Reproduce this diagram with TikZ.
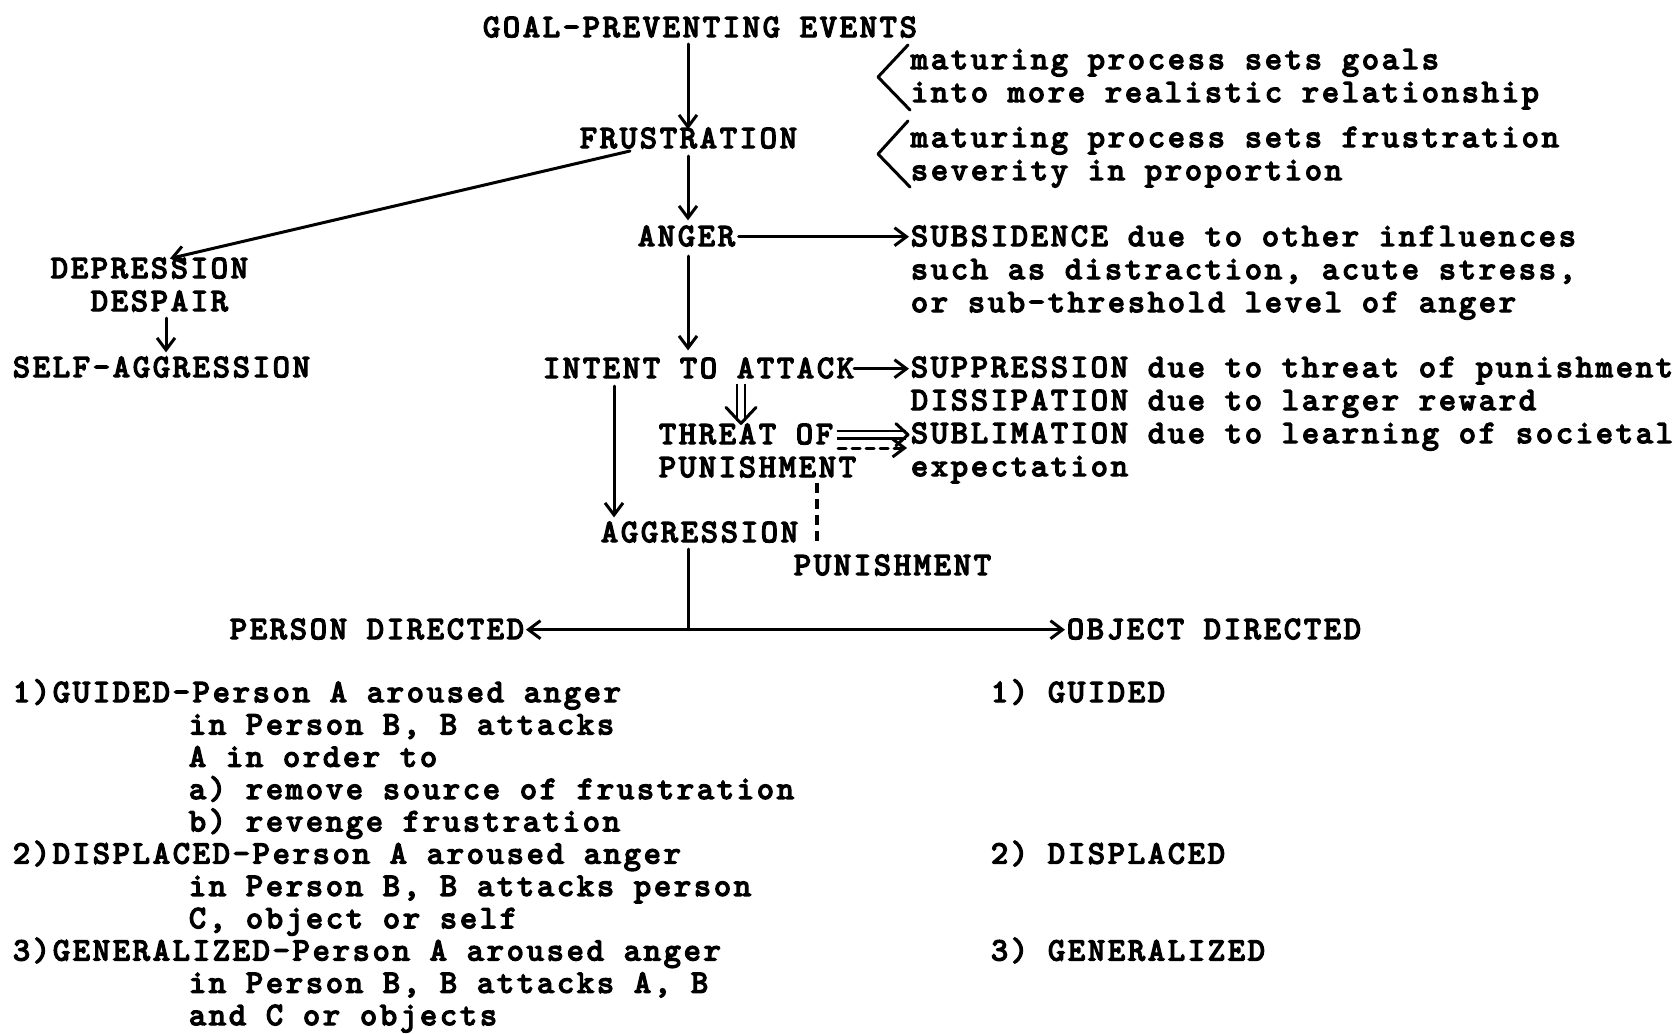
\documentclass[tikz,border=0pt]{standalone}
\usepackage{fontspec}
\newfontfamily\tw{lmmono10-regular.otf}[LetterSpace=9, AutoFakeBold=4.5]
\usetikzlibrary{arrows.meta}
\begin{document}
\begin{tikzpicture}[x=0.5pt,y=-0.5pt,
  txt/.style={anchor=base west, inner sep=0pt, outer sep=0pt, text height=9.3pt, text depth=0pt, font=\tw\bfseries\fontsize{16.25}{16.5}\selectfont},
  conn/.style={line width=1.5pt, line cap=round, -{Straight Barb[length=6pt,width=9pt,line width=1.5pt]}},
  plain/.style={line width=1.5pt, line cap=round},
  dbl/.style={double, double distance=2.6pt, line width=1.2pt},
  head/.style={line width=1.5pt, line cap=round, line join=round},
  dsh/.style={line width=1.6pt, dash pattern=on 5pt off 3pt},
  brk/.style={line width=1.5pt, line join=round, line cap=round}]
\useasboundingbox (0,0) rectangle (1675,1033);
\fill[white] (0,0) rectangle (1675,1033);

% ---- text ----
\node[txt] (goal) at (483,37) {GOAL-PREVENTING EVENTS};
\node[txt] (m1) at (911,69) {maturing process sets goals};
\node[txt] (m2) at (911,102) {into more realistic relationship};
\node[txt] (frust) at (580,148) {FRUSTRATION};
\node[txt] (m3) at (911,147) {maturing process sets frustration};
\node[txt] (m4) at (911,180) {severity in proportion};
\node[txt] (anger) at (638,246) {ANGER};
\node[txt] (subs) at (911,246) {SUBSIDENCE due to other influences};
\node[txt] (subs2) at (911,279) {such as distraction, acute stress,};
\node[txt] (subs3) at (911,312) {or sub-threshold level of anger};
\node[txt] (depr) at (51,278) {DEPRESSION};
\node[txt] (desp) at (91,311) {DESPAIR};
\node[txt] (selfagg) at (13,377) {SELF-AGGRESSION};
\node[txt] (intent) at (543,378) {INTENT TO ATTACK};
\node[txt] (supp) at (911,377) {SUPPRESSION due to threat of punishment};
\node[txt] (diss) at (911,410) {DISSIPATION due to larger reward};
\node[txt] (subl) at (911,443) {SUBLIMATION due to learning of societal};
\node[txt] (expect) at (911,476) {expectation};
\node[txt] (threat) at (659,444) {THREAT OF};
\node[txt] (pun1) at (659,477) {PUNISHMENT};
\node[txt] (agg) at (601,542) {AGGRESSION};
\node[txt] (pun2) at (794,575) {PUNISHMENT};
\node[txt] (person) at (230,639) {PERSON DIRECTED};
\node[txt] (object) at (1067,639) {OBJECT DIRECTED};

\node[txt] (g1) at (13,702) {1)GUIDED-Person A aroused anger};
\node[txt] (g2) at (189,734.3) {in Person B, B attacks};
\node[txt] (g3) at (189,766.6) {A in order to};
\node[txt] (g4) at (189,798.9) {a) remove source of frustration};
\node[txt] (g5) at (189,831.2) {b) revenge frustration};
\node[txt] (d1) at (13,863.5) {2)DISPLACED-Person A aroused anger};
\node[txt] (d2) at (189,895.8) {in Person B, B attacks person};
\node[txt] (d3) at (189,928.1) {C, object or self};
\node[txt] (z1) at (13,960.4) {3)GENERALIZED-Person A aroused anger};
\node[txt] (z2) at (189,992.7) {in Person B, B attacks A, B};
\node[txt] (z3) at (189,1025) {and C or objects};

\node[txt] (o1) at (991,702) {1) GUIDED};
\node[txt] (o2) at (991,863.5) {2) DISPLACED};
\node[txt] (o3) at (991,960.4) {3) GENERALIZED};

% ---- brackets ----
\draw[brk] (908,45) -- (878,77) -- (910,110);
\draw[brk] (908,121) -- (878,154) -- (910,187);

% ---- axes ----
\coordinate (ax) at (688,0);
\coordinate (lax) at (166,0);
\coordinate (iax) at (614,0);
\coordinate (tax) at (741,0);
\coordinate (pax) at (817,0);
\coordinate (fd) at (630,151);
\coordinate (dsrc) at (838,448);

% ---- connectors ----
\draw[conn, shorten <=3.5pt] (ax |- goal.south) -- (ax |- frust.north);
\draw[conn, shorten <=4pt, shorten >=3.5pt] (ax |- frust.south) -- (ax |- anger.north);
\draw[conn, shorten >=2pt] (fd) -- (lax |- depr.north);
\draw[conn, shorten <=3.5pt, shorten >=3pt] (lax |- desp.south) -- (lax |- selfagg.north);
\draw[conn, shorten <=1.75pt, shorten >=1pt] (anger.east) -- (anger.east -| subs.west);
\draw[conn, shorten <=5pt, shorten >=4.5pt] (ax |- anger.south) -- (ax |- intent.north);
\draw[conn, shorten >=1pt] (intent.east) -- (intent.east -| supp.west);
\draw[conn, shorten <=4pt, shorten >=3pt] (iax |- intent.south) -- (iax |- agg.north);
% double arrows
\path (tax |- threat.north) ++(0,-2) coordinate (t1);
\draw[dbl, shorten <=3pt, shorten >=1.2pt] (tax |- intent.south) -- (t1);
\draw[head] ([shift={(-15,-16)}]t1) -- (t1) -- ([shift={(15,-16)}]t1);
\path (threat.east -| subl.west) ++(-3,0) coordinate (t2);
\draw[dbl, shorten <=1.75pt, shorten >=1.2pt] (threat.east) -- (t2);
\draw[head] ([shift={(-12,-11)}]t2) -- (t2) -- ([shift={(-12,11)}]t2);
% dashed
\draw[conn, dash pattern=on 4pt off 3pt, shorten >=2pt] (dsrc) -- (dsrc -| subl.west);
\draw[dsh, shorten <=3pt, shorten >=7.5pt] (pax |- pun1.south) -- (pax |- pun2.north);
% aggression split
\draw[plain, shorten <=3.5pt] (ax |- agg.south) -- (ax |- person.east);
\draw[conn, shorten >=1pt] (ax |- person.east) -- (person.east);
\draw[conn, shorten >=1pt] (ax |- person.east) -- (object.west);
\end{tikzpicture}
\end{document}
